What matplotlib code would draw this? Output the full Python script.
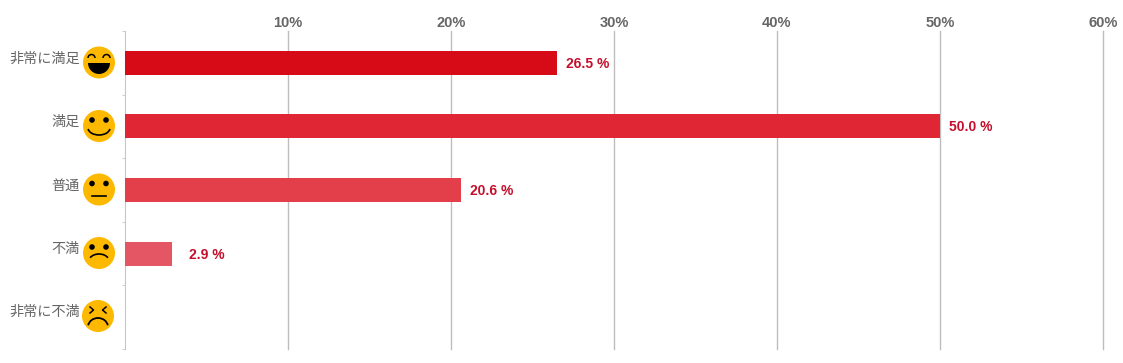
import numpy as np
import matplotlib
matplotlib.use("Agg")
import matplotlib.pyplot as plt
from matplotlib.patches import Circle, Arc, Wedge

# data
categories = ["非常に満足", "満足", "普通", "不満", "非常に不満"]
values = [26.5, 50.0, 20.6, 2.9, 0]
value_labels = ["26.5 %", "50.0 %", "20.6 %", "2.9 %", ""]
bar_colors = ["#d70b18", "#e02535", "#e23f4a", "#e55665", "#e8707c"]
x_ticks = [10, 20, 30, 40, 50, 60]
x_tick_labels = ["10%", "20%", "30%", "40%", "50%", "60%"]
faces = ["laugh", "smile", "neutral", "sad", "angry"]
label_gap = [9, 9, 9, 17, 9]

W, H = 1123, 363
fig = plt.figure(figsize=(W / 100, H / 100), dpi=100)

# main axes, placed in pixels
left, right, top, bottom = 125, 1103, 31, 349
ax = fig.add_axes([left / W, 1 - bottom / H, (right - left) / W, (bottom - top) / H])
y = np.arange(len(categories))
ax.barh(y, values, height=0.38, color=bar_colors, zorder=3)
ax.set_xlim(0, 60)
ax.set_ylim(len(categories) - 0.5, -0.5)

ax.set_xticks(x_ticks)
ax.set_xticklabels(x_tick_labels, family=["Liberation Sans"], fontweight="bold",
                   fontsize=10.5, color="#666666")
ax.xaxis.tick_top()
ax.tick_params(axis="x", length=0, pad=1)
ax.grid(axis="x", color="#bdbdbd", linewidth=1, zorder=0, clip_on=False)

ax.set_yticks(np.arange(len(categories) + 1) - 0.5)
ax.set_yticklabels([])
ax.tick_params(axis="y", length=2.5, color="#d0d0d0", width=0.8)

for s in ["top", "right", "bottom"]:
    ax.spines[s].set_visible(False)
ax.spines["left"].set_color("#c4c8cc")

for i, v in enumerate(values):
    if value_labels[i]:
        ax.annotate(value_labels[i], (v, i), xytext=(label_gap[i] * 0.72, -0.7),
                    textcoords="offset points", va="center", ha="left",
                    family=["Liberation Sans"], fontweight="bold", fontsize=10,
                    color="#c4102c")

# overlay in pixel coords for category labels and the faces
ov = fig.add_axes([0, 0, 1, 1], facecolor="none")
ov.set_xlim(0, W)
ov.set_ylim(H, 0)
ov.axis("off")


def draw_face(cx, cy, kind):
    ov.add_patch(Circle((cx, cy), 16, color="#fdb900", lw=0))
    k = "black"
    if kind == "laugh":
        ov.add_patch(Wedge((cx, cy + 0.5), 11, 0, 180, color=k, lw=0))
        for dx in (-7.5, 7.5):
            ov.add_patch(Arc((cx + dx, cy - 4.5), 7, 7, theta1=180, theta2=360, color=k, lw=1.1))
    elif kind == "smile":
        ov.add_patch(Arc((cx, cy + 2), 22, 14, theta1=5, theta2=175, color=k, lw=1.2))
    elif kind == "neutral":
        ov.plot([cx - 7, cx + 7], [cy + 6, cy + 6], color=k, lw=1.2)
    elif kind == "sad":
        ov.add_patch(Arc((cx, cy + 8), 20, 14, theta1=200, theta2=340, color=k, lw=1.2))
    elif kind == "angry":
        ov.add_patch(Arc((cx, cy + 11), 20, 18, theta1=190, theta2=350, color=k, lw=1.3))
        ov.plot([cx - 8, cx - 4.5, cx - 8], [cy - 9, cy - 6, cy - 3], color=k, lw=1.1)
        ov.plot([cx + 8, cx + 4.5, cx + 8], [cy - 9, cy - 6, cy - 3], color=k, lw=1.1)
    if kind in ("smile", "neutral", "sad"):
        for dx in (-7, 7):
            ov.add_patch(Circle((cx + dx, cy - 6), 2.8, color=k, lw=0))


centers = [62.5, 126, 189.5, 253, 316]
for i, name in enumerate(categories):
    ov.text(80, centers[i] - 4, name, ha="right", va="center", fontsize=10.2,
            color="#666666", family=["Noto Sans CJK JP", "DejaVu Sans"])
    draw_face(98 if i == 4 else 99, centers[i], faces[i])

fig.savefig("out.png", dpi=100)
